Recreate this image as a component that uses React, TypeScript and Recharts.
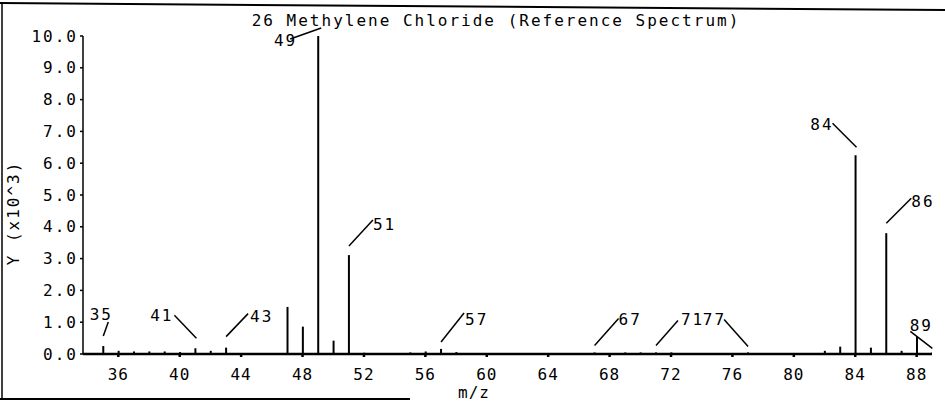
import { BarChart, Bar, XAxis, YAxis, LabelList } from 'recharts';

// m/z values and abundances (x10^3)
const masses = [35, 36, 37, 38, 39, 40, 41, 42, 43, 47, 48, 49, 50, 51, 52, 55, 56, 57, 58, 67, 69, 70, 71, 72, 77, 82, 83, 84, 85, 86, 87, 88, 89];
const intensities = [0.25, 0.1, 0.08, 0.08, 0.08, 0.06, 0.18, 0.1, 0.2, 1.48, 0.86, 10.0, 0.42, 3.11, 0.04, 0.05, 0.08, 0.16, 0.06, 0.05, 0.05, 0.05, 0.05, 0.05, 0.05, 0.1, 0.23, 6.25, 0.2, 3.8, 0.1, 0.54, 0.05];
const labeledPeaks = [35, 41, 43, 49, 51, 57, 67, 71, 77, 84, 86, 89];
const xTicks = [36, 40, 44, 48, 52, 56, 60, 64, 68, 72, 76, 80, 84, 88];
const yTicks = [0, 1, 2, 3, 4, 5, 6, 7, 8, 9, 10];
const title = '26 Methylene Chloride (Reference Spectrum)';

const FONT = '"DejaVu Sans Mono", monospace';
const INK = '#000';

// leader line (relative to the peak top) and where its number sits
const LEADERS: Record<number, { line: number[]; tx: number; ty: number; anchor: 'start' | 'end' | 'middle' }> = {
  35: { line: [0, -10, 5, -24], tx: -2, ty: -26, anchor: 'middle' },
  41: { line: [1, -10, -21, -33], tx: -22, ty: -27, anchor: 'end' },
  43: { line: [0, -11, 22, -34], tx: 24, ty: -26, anchor: 'start' },
  49: { line: [3, -8, -28, 3], tx: -21, ty: 10, anchor: 'end' },
  51: { line: [0, -9, 24, -35], tx: 24, ty: -25, anchor: 'start' },
  57: { line: [0, -7, 23, -36], tx: 24, ty: -24, anchor: 'start' },
  67: { line: [0, -7, 24, -34], tx: 24, ty: -27, anchor: 'start' },
  71: { line: [0, -7, 22, -32], tx: 25, ty: -27, anchor: 'start' },
  77: { line: [0, -6, -24, -33], tx: -22, ty: -27, anchor: 'end' },
  84: { line: [1, -8, -23, -32], tx: -22, ty: -25, anchor: 'end' },
  86: { line: [0, -10, 25, -35], tx: 25, ty: -26, anchor: 'start' },
  89: { line: [0, -4, -22, -21], tx: -11, ty: -21, anchor: 'middle' },
};

const data = masses.map((mz, i) => ({
  mz,
  y: intensities[i],
  tag: labeledPeaks.includes(mz) ? String(mz) : '',
}));

function PeakTag(props: any) {
  const { x, y, width, value } = props;
  if (!value) return null;
  const cfg = LEADERS[Number(value)];
  if (!cfg) return null;
  const cx = Number(x) + Number(width) / 2;
  const top = Number(y);
  const [x1, y1, x2, y2] = cfg.line;
  return (
    <g>
      <line x1={cx + x1} y1={top + y1} x2={cx + x2} y2={top + y2} stroke={INK} strokeWidth={1.5} />
      <text
        x={cx + cfg.tx}
        y={top + cfg.ty}
        textAnchor={cfg.anchor}
        fontFamily={FONT}
        fontSize={16}
        letterSpacing={2}
        fill={INK}
      >
        {value}
      </text>
    </g>
  );
}

export default function App() {
  return (
    <div style={{ position: 'absolute', left: 0, top: 0, width: 945, height: 403, background: '#fff' }}>
      <BarChart width={945} height={403} data={data} margin={{ top: 36, right: 13, bottom: 9, left: 0 }}>
        <XAxis
          dataKey="mz"
          type="number"
          domain={[33.7, 89]}
          ticks={xTicks}
          allowDataOverflow
          height={40}
          stroke={INK}
          strokeWidth={2.5}
          tickSize={3}
          tickMargin={12}
          tick={{ fill: INK, fontSize: 16, fontFamily: FONT, letterSpacing: 1 }}
        />
        <YAxis
          type="number"
          domain={[0, 10]}
          ticks={yTicks}
          width={83}
          stroke={INK}
          strokeWidth={1.5}
          tickSize={3}
          tickMargin={2}
          tickFormatter={(v: number) => v.toFixed(1)}
          tick={{ fill: INK, fontSize: 16, fontFamily: FONT, letterSpacing: 2 }}
        />
        <Bar dataKey="y" fill={INK} barSize={2} isAnimationActive={false}>
          <LabelList dataKey="tag" content={PeakTag} />
        </Bar>
      </BarChart>
      <svg width={945} height={403} style={{ position: 'absolute', left: 0, top: 0, pointerEvents: 'none' }}>
        <line x1={0} y1={3} x2={945} y2={10} stroke={INK} strokeWidth={2} />
        <line x1={2} y1={4} x2={2} y2={400} stroke={INK} strokeWidth={1.5} />
        <line x1={0} y1={399} x2={410} y2={399} stroke={INK} strokeWidth={2} />
        <text x={496} y={26} textAnchor="middle" fontFamily={FONT} fontSize={16} letterSpacing={2} fill={INK}>
          {title}
        </text>
        <text
          x={13}
          y={213}
          transform="rotate(-90 13 213)"
          textAnchor="middle"
          dy="0.35em"
          fontFamily={FONT}
          fontSize={16}
          letterSpacing={2}
          fill={INK}
        >
          Y (x10^3)
        </text>
        <text x={474} y={398} textAnchor="middle" fontFamily={FONT} fontSize={16} letterSpacing={1} fill={INK}>
          m/z
        </text>
      </svg>
    </div>
  );
}
